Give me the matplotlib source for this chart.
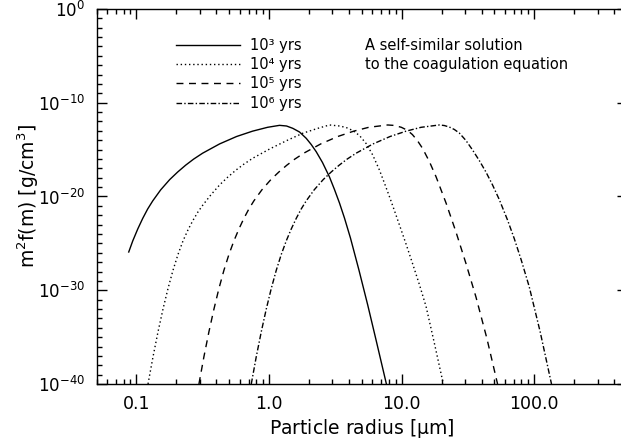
import numpy as np
import matplotlib
matplotlib.use("Agg")
import matplotlib.pyplot as plt
from matplotlib.ticker import FixedLocator, FixedFormatter, LogLocator, NullFormatter

plt.rcParams['font.family'] = ['DejaVu Sans']
plt.rcParams['mathtext.fontset'] = 'custom'
plt.rcParams['mathtext.rm'] = 'DejaVu Sans'
plt.rcParams['mathtext.it'] = 'DejaVu Sans:italic'
plt.rcParams['mathtext.default'] = 'regular'

# ---- data: radius [micron] and log10 of m^2 f(m) [g/cm^3] ----
r_1e3 = [0.0875, 0.0938, 0.1023, 0.1115, 0.1216, 0.1327, 0.1524, 0.1781, 0.2046, 0.2350,
         0.2701, 0.3156, 0.4239, 0.5692, 0.7512, 0.9743, 1.1996, 1.3546, 1.5108, 1.6971,
         1.9055, 2.0785, 2.267, 2.528, 2.856, 3.113, 3.396, 3.703, 4.110, 4.761,
         5.546, 6.450, 7.670]
lg_1e3 = [-25.92, -24.74, -23.47, -22.34, -21.33, -20.47, -19.29, -18.20, -17.39, -16.66,
          -16.01, -15.38, -14.39, -13.60, -13.03, -12.62, -12.41, -12.48, -12.73, -13.12,
          -13.79, -14.45, -15.22, -16.37, -17.92, -19.25, -20.69, -22.29, -24.43, -27.84,
          -31.57, -35.47, -40.0]

r_1e4 = [0.1223, 0.1334, 0.1455, 0.1586, 0.1730, 0.1886, 0.2057, 0.2244, 0.2446, 0.2668,
         0.2910, 0.3173, 0.3645, 0.4261, 0.4896, 0.5623, 0.6458, 0.7551, 1.0139, 1.3614,
         1.7971, 2.331, 2.856, 3.396, 3.814, 4.276, 4.803, 5.395, 6.048, 6.794,
         7.408, 8.080, 8.811, 9.610, 10.79, 12.04, 13.60, 15.27, 17.63, 20.61]
lg_1e4 = [-40.0, -37.09, -34.43, -32.01, -29.82, -27.88, -26.19, -24.74, -23.57, -22.55,
          -21.65, -20.90, -19.82, -18.73, -17.92, -17.19, -16.55, -15.91, -14.92, -14.03,
          -13.25, -12.73, -12.37, -12.48, -12.64, -12.96, -13.49, -14.35, -15.57, -17.17,
          -18.56, -20.00, -21.49, -23.02, -25.07, -27.09, -29.39, -31.73, -35.63, -40.0]

r_1e5 = [0.2960, 0.3228, 0.3521, 0.3841, 0.4188, 0.4566, 0.4981, 0.5431, 0.5924, 0.6458,
         0.7046, 0.7681, 0.8829, 1.0318, 1.1852, 1.3614, 1.5643, 1.8281, 2.4548, 3.2972,
         4.3510, 5.6443, 7.845, 8.811, 9.947, 11.04, 12.04, 13.13, 14.39, 16.17,
         18.16, 21.60, 25.68, 30.54, 36.32, 43.82, 52.84]
lg_1e5 = [-40.0, -37.09, -34.43, -32.01, -29.82, -27.88, -26.19, -24.74, -23.47, -22.34,
          -21.33, -20.47, -19.29, -18.20, -17.39, -16.66, -16.01, -15.38, -14.39, -13.60,
          -13.03, -12.62, -12.37, -12.42, -12.62, -12.94, -13.39, -14.03, -14.88, -16.27,
          -17.89, -20.69, -23.79, -27.15, -30.72, -35.09, -40.0]

r_1e6 = [0.7345, 0.8009, 0.8737, 0.9526, 1.0389, 1.1329, 1.2356, 1.3476, 1.4697, 1.6025,
         1.7478, 1.9055, 2.1894, 2.5593, 2.9398, 3.3787, 3.8805, 4.5360, 6.0901, 8.1772,
         10.794, 14.000, 19.225, 20.97, 22.87, 24.94, 27.20, 30.54, 34.24, 38.47,
         43.20, 48.44, 54.42, 62.84, 70.58, 79.69, 91.54, 110.8, 134.8]
lg_1e6 = [-40.0, -37.09, -34.43, -32.01, -29.82, -27.88, -26.19, -24.74, -23.47, -22.34,
          -21.33, -20.47, -19.29, -18.20, -17.39, -16.66, -16.01, -15.38, -14.39, -13.60,
          -13.03, -12.62, -12.37, -12.43, -12.59, -12.85, -13.23, -14.03, -15.04, -16.16,
          -17.39, -18.77, -20.32, -22.51, -24.48, -26.77, -29.62, -34.45, -40.0]

series_labels = ['10\u00b3 yrs', '10\u2074 yrs', '10\u2075 yrs', '10\u2076 yrs']
x_ticks = [0.1, 1.0, 10.0, 100.0]
x_ticklabels = ['0.1', '1.0', '10.0', '100.0']
y_ticks = [1e-40, 1e-30, 1e-20, 1e-10, 1e0]
y_ticklabels = [r'$10^{-40}$', r'$10^{-30}$', r'$10^{-20}$', r'$10^{-10}$', r'$10^{0}$']
note_lines = ['A self-similar solution', 'to the coagulation equation']

W, H = 621, 444
fig = plt.figure(figsize=(W / 100, H / 100), dpi=100)
ax = fig.add_axes([96.5 / W, (H - 384) / H, (627 - 96.5) / W, (384 - 9) / H])

styles = [
    dict(linestyle='-'),
    dict(linestyle=(0, (1.0, 2.0))),
    dict(linestyle=(0, (5.0, 4.0))),
    dict(linestyle=(0, (4.0, 1.6, 1.0, 1.6))),
]
data = [(r_1e3, lg_1e3), (r_1e4, lg_1e4), (r_1e5, lg_1e5), (r_1e6, lg_1e6)]
handles = []
for (rr, lg), st, lab in zip(data, styles, series_labels):
    h, = ax.plot(rr, np.power(10.0, np.array(lg)), color='black', lw=1.0, label=lab, **st)
    handles.append(h)

ax.set_xscale('log')
ax.set_yscale('log')
ax.set_xlim(0.05, 500)
ax.set_ylim(1e-40, 1e0)

ax.xaxis.set_major_locator(FixedLocator(x_ticks))
ax.xaxis.set_major_formatter(FixedFormatter(x_ticklabels))
ax.xaxis.set_minor_locator(LogLocator(base=10, subs=np.arange(2, 10), numticks=50))
ax.xaxis.set_minor_formatter(NullFormatter())
ax.yaxis.set_major_locator(FixedLocator(y_ticks))
ax.yaxis.set_major_formatter(FixedFormatter(y_ticklabels))
ax.yaxis.set_minor_locator(LogLocator(base=10, subs=(1.0,), numticks=100))
ax.yaxis.set_minor_formatter(NullFormatter())

ax.tick_params(which='both', direction='in', top=True, right=True, width=1.0, labelsize=12.5)
ax.tick_params(axis='y', which='major', labelsize=12)
ax.tick_params(which='major', length=7.5, pad=8)
ax.tick_params(which='minor', length=3.8)
for s in ax.spines.values():
    s.set_linewidth(1.0)

ax.set_xlabel(r'Particle radius [$\mu$m]', fontsize=13.5, labelpad=3)
ax.set_ylabel(r'm$^2$f(m) [g/cm$^3$]', fontsize=13.5)
ax.yaxis.set_label_coords(-(96.5 - 41) / (627 - 96.5), 0.5)

leg = ax.legend(handles=handles, loc='upper left', bbox_to_anchor=(176 / W, 1 - 38 / H),
                bbox_transform=fig.transFigure, frameon=False, fontsize=10.5,
                handlelength=4.4, handletextpad=0.7, labelspacing=0.29,
                borderpad=0, borderaxespad=0)

for i, t in enumerate(note_lines):
    fig.text(365 / W, 1 - (45 + 19 * i) / H, t, fontsize=10.5, va='center', ha='left')

fig.savefig('out.png', dpi=100)
